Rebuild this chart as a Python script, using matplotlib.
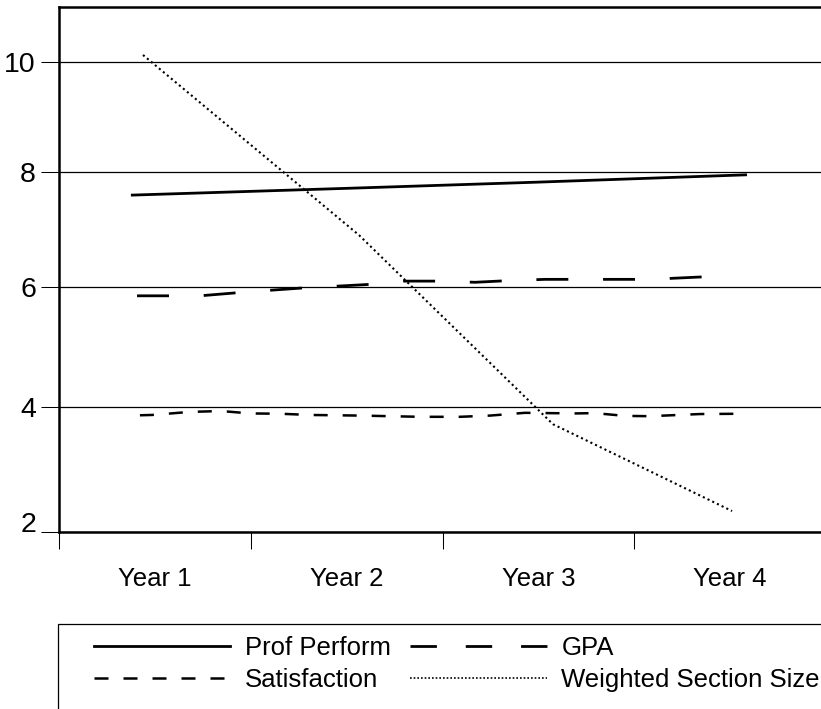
import numpy as np
import matplotlib
matplotlib.use("Agg")
import matplotlib.pyplot as plt
from matplotlib.lines import Line2D
from matplotlib.patches import Rectangle

plt.rcParams['font.family'] = ['Liberation Sans', 'DejaVu Sans']

# ---------------- data ----------------
categories = ['Year 1', 'Year 2', 'Year 3', 'Year 4']
cat_pos = [1, 2, 3, 4]
y_ticks = [2, 4, 6, 8, 10]

prof_x = [0.875, 2.0, 3.0, 4.088]
prof_y = [7.59, 7.71, 7.82, 7.95]

gpa_x = [0.907, 1.235, 1.496, 1.757, 2.153, 2.299, 2.487, 2.670, 2.852, 3.035, 3.582, 3.843, 4.031]
gpa_y = [5.85, 5.85, 5.92, 5.98, 6.05, 6.10, 6.10, 6.08, 6.11, 6.13, 6.13, 6.17, 6.18]

sat_x = [0.922, 0.985, 1.183, 1.298, 1.381, 1.496, 1.653, 1.809, 2.070, 2.383, 2.591,
         2.748, 2.930, 3.191, 3.295, 3.452, 3.582, 3.843, 4.067]
sat_y = [3.865, 3.87, 3.92, 3.93, 3.925, 3.895, 3.89, 3.87, 3.86, 3.84, 3.84,
         3.86, 3.905, 3.895, 3.90, 3.855, 3.85, 3.885, 3.89]

wss_x = [0.938, 2.065, 3.076, 4.010]
wss_y = [10.13, 6.89, 3.72, 2.33]

# slightly non-linear vertical scale of the original picture
A, B = 66.25, 0.625
def fwd(v):
    v = np.asarray(v, dtype=float)
    return A * v - B * v ** 2
def inv(t):
    t = np.asarray(t, dtype=float)
    return (A - np.sqrt(np.maximum(A * A - 4 * B * t, 0))) / (2 * B)

W, H = 821, 709
fig = plt.figure(figsize=(W / 100, H / 100), dpi=100)
ax = fig.add_axes([59 / W, 1 - 532 / H, (826 - 59) / W, (532 - 7) / H])
ax.set_yscale('function', functions=(fwd, inv))

ax.plot(prof_x, prof_y, color='black', lw=2.0, solid_capstyle='butt')
ax.plot(gpa_x, gpa_y, color='black', lw=2.0, dashes=(11.5, 12.5), dash_capstyle='butt')
ax.plot(sat_x, sat_y, color='black', lw=1.8, dashes=(5.6, 6), dash_capstyle='butt')
ax.plot(wss_x, wss_y, color='black', lw=1.5, dashes=(1, 1.5), dash_capstyle='butt')

ax.set_xlim(0.5, 4.5)
ax.set_ylim(2, 11.035)

ax.set_yticks(y_ticks)
ax.set_yticklabels([str(v) for v in y_ticks])
ax.tick_params(axis='y', length=13, width=0.75, pad=3.6, labelsize=20.5, color='black')
ax.yaxis.grid(True, color='black', lw=0.9)
ax.set_axisbelow(True)

ax.set_xticks([0.5, 1.5, 2.5, 3.5, 4.5])
ax.set_xticklabels([])
ax.set_xticks(cat_pos, minor=True)
ax.set_xticklabels(categories, minor=True)
ax.tick_params(axis='x', which='major', length=12.2, width=0.75, color='black')
ax.tick_params(axis='x', which='minor', length=0, pad=25, labelsize=18.5)

for s in ['top', 'left', 'bottom']:
    ax.spines[s].set_linewidth(1.8)
    ax.spines[s].set_color('black')
ax.spines['right'].set_visible(False)

for lab in ax.get_yticklabels():
    if lab.get_text() == '2':
        lab.set_va('baseline')

# legend
handles = [
    Line2D([], [], color='black', lw=2.0),
    Line2D([], [], color='black', lw=1.8, dashes=(5.6, 6)),
    Line2D([], [], color='black', lw=2.0, dashes=(9.5, 10.4), dash_capstyle='butt'),
    Line2D([], [], color='black', lw=1.2, dashes=(1, 1.2)),
]
labels = ['Prof Perform', 'Satisfaction', 'GPA', 'Weighted Section Size']
fig.add_artist(Rectangle((57.5 / W, -0.05), 1.0, (1 - 624 / H) + 0.05,
                         transform=fig.transFigure, fill=False, edgecolor='black', lw=0.9))
fig.legend(handles, labels, ncol=2, loc='upper left',
           bbox_to_anchor=(94 / W, 1 - 636 / H), frameon=False, fontsize=18.5,
           handlelength=5.3, handletextpad=0.58, columnspacing=0.75,
           labelspacing=0.3, borderpad=0, borderaxespad=0)

fig.savefig('out.png', dpi=100)
